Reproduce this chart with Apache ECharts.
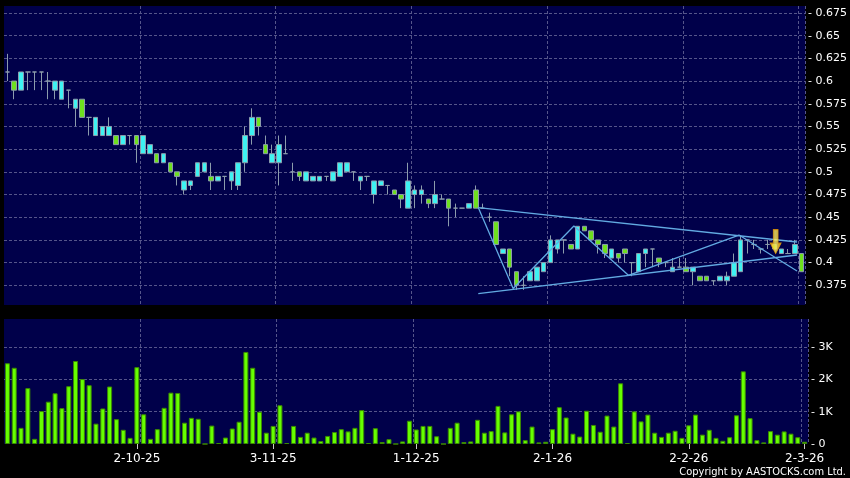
<!DOCTYPE html>
<html>
<head>
<meta charset="utf-8">
<script src="https://cdn.jsdelivr.net/npm/echarts@6.0.0/dist/echarts.min.js"></script>
<style>
  html, body { margin: 0; padding: 0; background: #000; }
  #chart { width: 850px; height: 478px; }
</style>
</head>
<body>
<div id="chart"></div>
<script>
// x axis labels and where they sit (bar index, 0 based)
const tickLabels = ['2-10-25', '3-11-25', '1-12-25', '2-1-26', '2-2-26', '2-3-26']
const tickBars = [19, 39, 60, 80, 100, 117]
const gridBars = [20, 40, 60, 80, 100, 117]

// daily prices
const openP = [
  0.61, 0.60, 0.59, 0.61, 0.61, 0.61, 0.60, 0.59, 0.58, 0.59,
  0.57, 0.58, 0.56, 0.54, 0.54, 0.54, 0.54, 0.53, 0.54, 0.54,
  0.52, 0.52, 0.52, 0.51, 0.51, 0.50, 0.48, 0.485, 0.495, 0.50,
  0.495, 0.49, 0.495, 0.49, 0.485, 0.51, 0.54, 0.56, 0.53, 0.51,
  0.51, 0.52, 0.50, 0.50, 0.49, 0.49, 0.49, 0.495, 0.49, 0.495,
  0.50, 0.50, 0.49, 0.495, 0.475, 0.485, 0.485, 0.48, 0.475, 0.46,
  0.475, 0.475, 0.47, 0.465, 0.47, 0.47, 0.46, 0.46, 0.46, 0.48,
  0.46, 0.45, 0.445, 0.41, 0.415, 0.39, 0.375, 0.38, 0.38, 0.39,
  0.40, 0.415, 0.425, 0.42, 0.415, 0.44, 0.435, 0.425, 0.42, 0.405,
  0.41, 0.415, 0.40, 0.39, 0.41, 0.415, 0.405, 0.40, 0.39, 0.395,
  0.395, 0.39, 0.385, 0.385, 0.38, 0.38, 0.38, 0.385, 0.39, 0.425,
  0.42, 0.415, 0.42, 0.42, 0.41, 0.41, 0.41, 0.41
]
const closeP = [
  0.61, 0.59, 0.61, 0.61, 0.61, 0.61, 0.60, 0.60, 0.60, 0.59,
  0.58, 0.56, 0.56, 0.56, 0.55, 0.55, 0.53, 0.54, 0.54, 0.53,
  0.54, 0.53, 0.51, 0.52, 0.50, 0.495, 0.49, 0.49, 0.51, 0.51,
  0.49, 0.495, 0.495, 0.50, 0.51, 0.54, 0.56, 0.55, 0.52, 0.52,
  0.53, 0.52, 0.50, 0.495, 0.50, 0.495, 0.495, 0.495, 0.50, 0.51,
  0.51, 0.50, 0.495, 0.495, 0.49, 0.49, 0.485, 0.475, 0.47, 0.49,
  0.48, 0.48, 0.465, 0.475, 0.47, 0.46, 0.46, 0.46, 0.465, 0.46,
  0.46, 0.45, 0.42, 0.415, 0.395, 0.375, 0.375, 0.39, 0.395, 0.40,
  0.425, 0.425, 0.425, 0.415, 0.44, 0.435, 0.425, 0.42, 0.41, 0.415,
  0.405, 0.41, 0.40, 0.41, 0.415, 0.415, 0.40, 0.40, 0.395, 0.395,
  0.39, 0.395, 0.38, 0.38, 0.38, 0.385, 0.385, 0.40, 0.425, 0.425,
  0.42, 0.415, 0.42, 0.415, 0.415, 0.41, 0.42, 0.39
]
const lowP = [
  0.60, 0.58, 0.59, 0.59, 0.59, 0.59, 0.58, 0.58, 0.58, 0.57,
  0.55, 0.56, 0.54, 0.54, 0.54, 0.54, 0.53, 0.53, 0.53, 0.51,
  0.52, 0.52, 0.51, 0.51, 0.50, 0.485, 0.475, 0.48, 0.495, 0.50,
  0.48, 0.49, 0.48, 0.48, 0.48, 0.50, 0.53, 0.54, 0.52, 0.51,
  0.485, 0.52, 0.49, 0.49, 0.49, 0.49, 0.49, 0.49, 0.49, 0.495,
  0.50, 0.49, 0.48, 0.49, 0.465, 0.485, 0.475, 0.475, 0.46, 0.46,
  0.46, 0.465, 0.46, 0.46, 0.47, 0.44, 0.45, 0.46, 0.46, 0.46,
  0.46, 0.445, 0.42, 0.41, 0.385, 0.37, 0.37, 0.38, 0.38, 0.39,
  0.40, 0.41, 0.41, 0.415, 0.415, 0.435, 0.425, 0.41, 0.405, 0.405,
  0.40, 0.40, 0.385, 0.39, 0.395, 0.395, 0.395, 0.395, 0.39, 0.395,
  0.39, 0.375, 0.38, 0.38, 0.375, 0.38, 0.375, 0.385, 0.39, 0.41,
  0.415, 0.41, 0.415, 0.415, 0.41, 0.41, 0.41, 0.39
]
const highP = [
  0.63, 0.60, 0.61, 0.61, 0.61, 0.61, 0.61, 0.60, 0.60, 0.59,
  0.58, 0.58, 0.56, 0.56, 0.55, 0.56, 0.54, 0.54, 0.54, 0.54,
  0.54, 0.53, 0.52, 0.52, 0.51, 0.50, 0.49, 0.49, 0.51, 0.51,
  0.51, 0.495, 0.495, 0.50, 0.51, 0.55, 0.57, 0.56, 0.54, 0.53,
  0.54, 0.54, 0.51, 0.50, 0.50, 0.495, 0.495, 0.495, 0.50, 0.51,
  0.51, 0.50, 0.495, 0.495, 0.49, 0.49, 0.485, 0.48, 0.475, 0.51,
  0.485, 0.485, 0.47, 0.49, 0.475, 0.47, 0.465, 0.46, 0.465, 0.485,
  0.465, 0.455, 0.445, 0.415, 0.415, 0.39, 0.385, 0.39, 0.395, 0.40,
  0.43, 0.425, 0.425, 0.42, 0.44, 0.44, 0.435, 0.425, 0.42, 0.415,
  0.41, 0.415, 0.40, 0.41, 0.415, 0.415, 0.405, 0.40, 0.405, 0.405,
  0.405, 0.395, 0.385, 0.385, 0.38, 0.385, 0.39, 0.41, 0.43, 0.425,
  0.425, 0.415, 0.425, 0.42, 0.415, 0.415, 0.425, 0.41
]
// volume, in thousands
const volumeK = [
  2.5, 2.36, 0.5, 1.73, 0.16, 1.02, 1.31, 1.57, 1.11, 1.79,
  2.57, 2.01, 1.82, 0.63, 1.1, 1.78, 0.77, 0.44, 0.19, 2.38,
  0.92, 0.16, 0.46, 1.12, 1.59, 1.58, 0.66, 0.81, 0.78, 0,
  0.57, 0.03, 0.2, 0.48, 0.69, 2.85, 2.36, 1.0, 0.35, 0.56,
  1.2, 0.03, 0.56, 0.22, 0.35, 0.2, 0.09, 0.25, 0.37, 0.46,
  0.39, 0.5, 1.05, 0.03, 0.49, 0.06, 0.15, 0, 0.08, 0.72,
  0.45, 0.56, 0.56, 0.24, 0, 0.5, 0.66, 0.06, 0.08, 0.75,
  0.35, 0.4, 1.18, 0.36, 0.92, 1.01, 0.12, 0.54, 0.05, 0.07,
  0.46, 1.14, 0.82, 0.32, 0.23, 1.03, 0.59, 0.38, 0.88, 0.54,
  1.88, 0.03, 1.01, 0.7, 0.91, 0.35, 0.22, 0.35, 0.41, 0.19,
  0.58, 0.91, 0.29, 0.44, 0.19, 0.1, 0.21, 0.89, 2.25, 0.8,
  0.12, 0.05, 0.4, 0.29, 0.39, 0.32, 0.21, 0.07
]

// hand drawn lines on the price pane: [bar index, price]
const upperLine = [[69.36, 0.4606], [116.32, 0.4227]]
const supportLine = [[69.36, 0.3659], [116.32, 0.4084]]
const zigzagLine = [
  [69.36, 0.4606], [74.5, 0.3714], [83.45, 0.4403],
  [91.48, 0.386], [107.77, 0.4304], [116.32, 0.3907]
]
const arrowMark = [[113.17, 0.4231]]

const UP_FILL = '#3ef2f2'
const DOWN_FILL = '#6ee01e'
const CANDLE_EDGE = '#8c9cac'
const VOL_FILL = '#66ff00'
const VOL_EDGE = '#3c8a00'
const GRID_LINE = '#55558a'
const PANE_BG = '#00004a'
const FONT = 'DejaVu Sans'

const categories = openP.map((v, i) => 'b' + i)
const candles = openP.map((o, i) => [o, closeP[i], lowP[i], highP[i]])
const volumes = volumeK.map(v => Math.round(v * 1000))

const dashed = {
  show: true,
  lineStyle: { color: GRID_LINE, type: [3, 2], width: 1 }
}

const chart = echarts.init(document.getElementById('chart'), null, { renderer: 'canvas' })
chart.setOption({
  animation: false,
  backgroundColor: '#000',
  grid: [
    { left: 4, top: 6, width: 804, height: 302, show: true, backgroundColor: PANE_BG, borderWidth: 0 },
    { left: 4, top: 319, width: 804, height: 125, show: true, backgroundColor: PANE_BG, borderWidth: 0 }
  ],
  xAxis: [
    {
      type: 'category',
      gridIndex: 0,
      data: categories,
      boundaryGap: true,
      axisLine: { show: false },
      axisTick: { show: false },
      axisLabel: { show: false },
      splitLine: Object.assign({ interval: (i) => gridBars.includes(i) }, dashed)
    },
    {
      type: 'category',
      gridIndex: 1,
      data: categories,
      boundaryGap: true,
      axisLine: { show: false },
      axisTick: {
        show: true,
        alignWithLabel: true,
        interval: (i) => tickBars.includes(i),
        length: 5,
        lineStyle: { color: '#c8c8c8' }
      },
      axisLabel: {
        interval: (i) => tickBars.includes(i),
        formatter: (v, i) => {
          const k = tickBars.indexOf(i)
          return k >= 0 ? tickLabels[k] : ''
        },
        color: '#fff',
        fontFamily: FONT,
        fontSize: 12,
        margin: 9
      },
      splitLine: Object.assign({ interval: (i) => gridBars.includes(i) }, dashed)
    },
    // helper axis for the drawn lines, same span as the price bars
    { type: 'value', gridIndex: 0, min: -0.5, max: 117.5, show: false }
  ],
  yAxis: [
    {
      type: 'value',
      gridIndex: 0,
      position: 'right',
      min: 0.35,
      max: 0.6827,
      interval: 0.025,
      axisLine: { show: false },
      axisTick: { show: false },
      axisLabel: {
        showMinLabel: false,
        showMaxLabel: false,
        formatter: (v) => '- ' + v,
        color: '#fff',
        fontFamily: FONT,
        fontSize: 11,
        margin: 3
      },
      splitLine: Object.assign({ showMinLine: false, showMaxLine: false }, dashed)
    },
    {
      type: 'value',
      gridIndex: 1,
      position: 'right',
      min: 0,
      max: 3870,
      interval: 1000,
      axisLine: { show: false },
      axisTick: { show: false },
      axisLabel: {
        showMaxLabel: false,
        formatter: (v) => '- ' + (v === 0 ? '0' : v / 1000 + 'K'),
        color: '#fff',
        fontFamily: FONT,
        fontSize: 11,
        margin: 3
      },
      splitLine: Object.assign({ showMinLine: false, showMaxLine: false }, dashed)
    }
  ],
  graphic: [
    // the price pane ends a little above where 0.35 would sit
    { type: 'rect', shape: { x: 4, y: 305, width: 804, height: 5 }, style: { fill: '#000' }, z: 100 },
    {
      type: 'text',
      x: 846,
      y: 472,
      style: {
        text: 'Copyright by AASTOCKS.com Ltd.',
        fill: '#fff',
        font: '11px "DejaVu Sans Condensed", "Liberation Sans Narrow", "DejaVu Sans"',
        align: 'right',
        verticalAlign: 'middle'
      },
      z: 100
    }
  ],
  series: [
    {
      name: 'price',
      type: 'candlestick',
      xAxisIndex: 0,
      yAxisIndex: 0,
      barWidth: 5,
      data: candles,
      itemStyle: {
        color: UP_FILL,
        color0: DOWN_FILL,
        borderColor: CANDLE_EDGE,
        borderColor0: CANDLE_EDGE,
        borderColorDoji: CANDLE_EDGE,
        borderWidth: 1
      }
    },
    {
      name: 'volume',
      type: 'bar',
      xAxisIndex: 1,
      yAxisIndex: 1,
      barWidth: 5,
      data: volumes,
      itemStyle: { color: VOL_FILL, borderColor: VOL_EDGE, borderWidth: 1 }
    },
    {
      type: 'line',
      xAxisIndex: 2,
      yAxisIndex: 0,
      data: upperLine,
      symbol: 'none',
      lineStyle: { color: '#62aae2', width: 1.3 },
      z: 5
    },
    {
      type: 'line',
      xAxisIndex: 2,
      yAxisIndex: 0,
      data: supportLine,
      symbol: 'none',
      lineStyle: { color: '#62aae2', width: 1.3 },
      z: 5
    },
    {
      type: 'line',
      xAxisIndex: 2,
      yAxisIndex: 0,
      data: zigzagLine,
      symbol: 'none',
      lineStyle: { color: '#62aae2', width: 1.3 },
      z: 5
    },
    {
      type: 'scatter',
      xAxisIndex: 2,
      yAxisIndex: 0,
      data: arrowMark,
      symbol: 'path://M3,0 L8,0 L8,13 L11,13 L5.5,23 L0,13 L3,13 Z',
      symbolSize: [11, 24],
      symbolKeepAspect: false,
      itemStyle: {
        color: new echarts.graphic.LinearGradient(0, 0, 1, 0, [
          { offset: 0, color: '#ffb800' },
          { offset: 0.5, color: '#fff060' },
          { offset: 1, color: '#ffb800' }
        ]),
        borderColor: '#e89a00',
        borderWidth: 0.8
      },
      z: 6
    }
  ]
})
</script>
</body>
</html>
